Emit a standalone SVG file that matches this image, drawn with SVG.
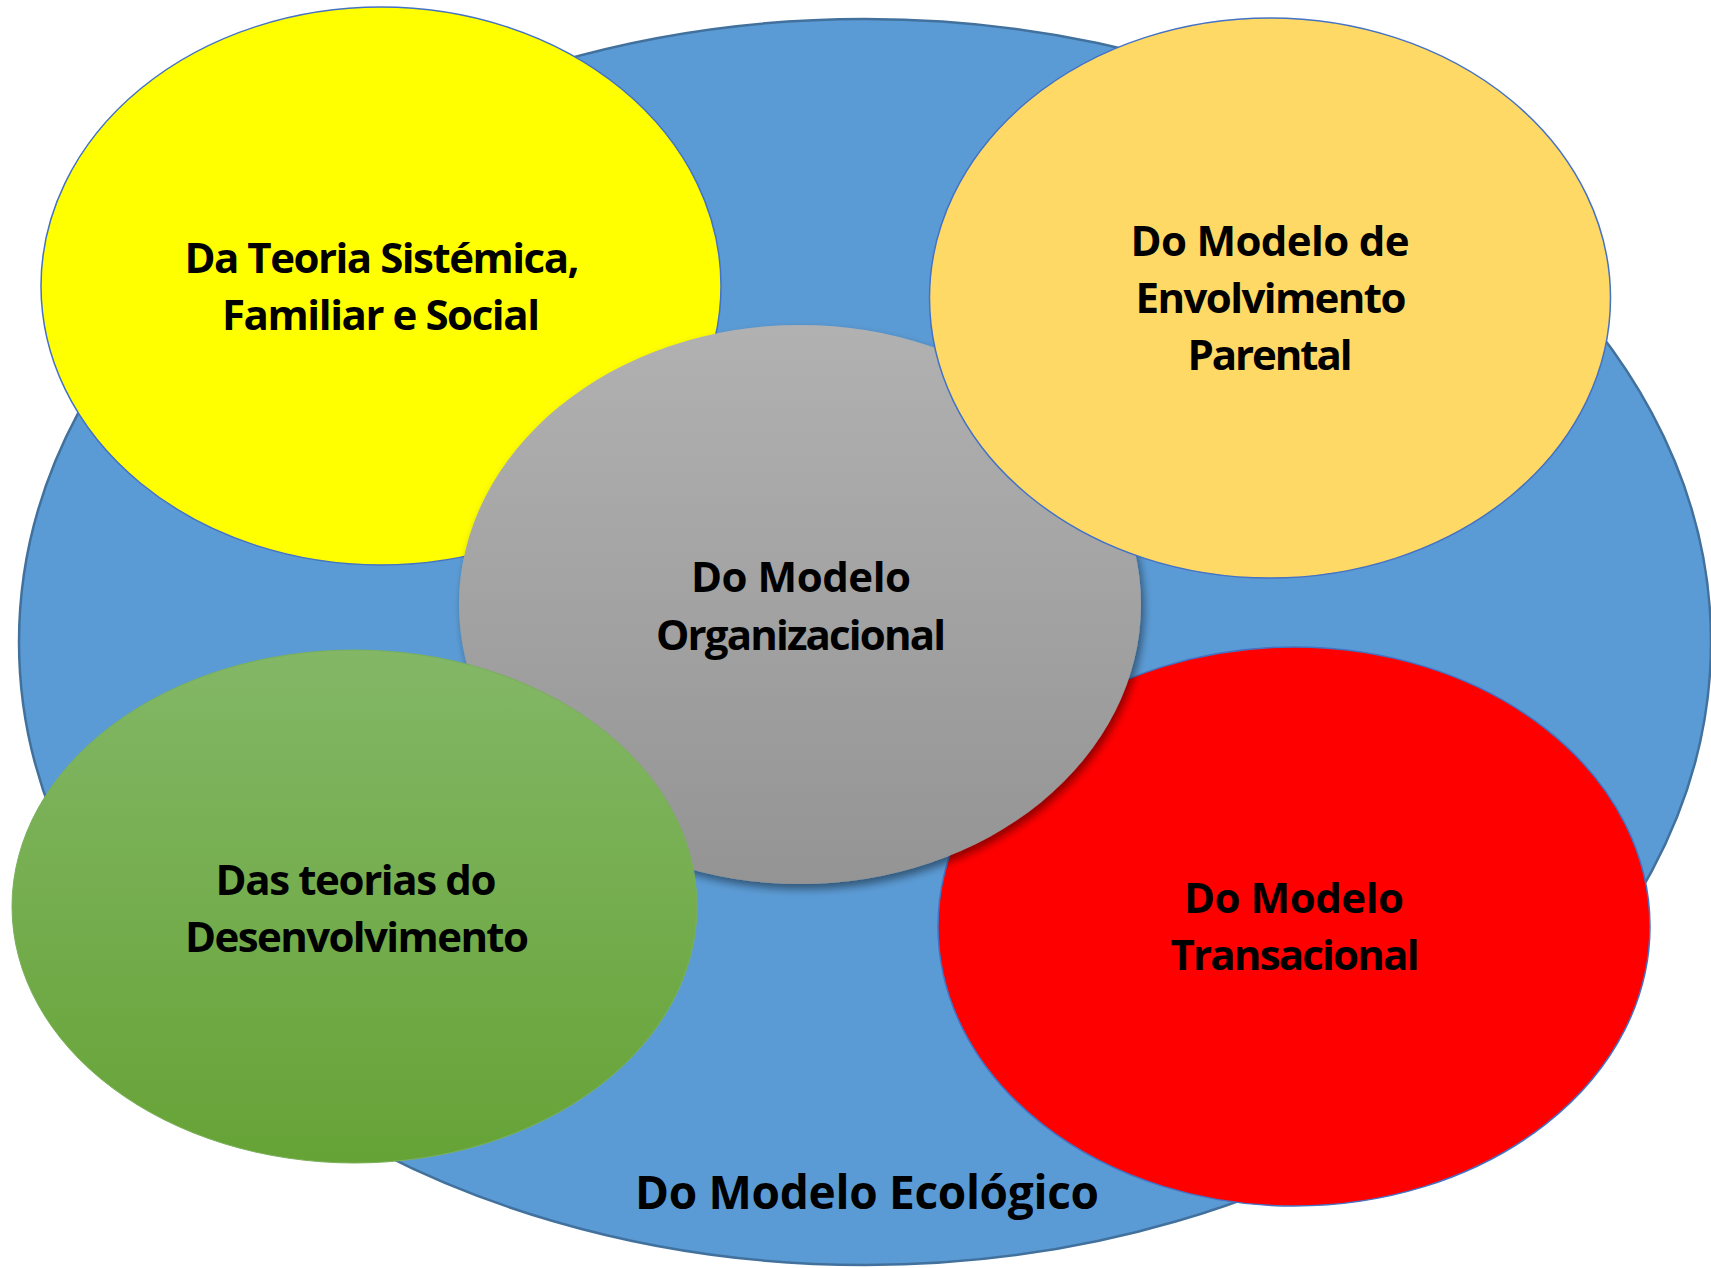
<svg xmlns="http://www.w3.org/2000/svg" width="1711" height="1268" viewBox="0 0 1711 1268">
<style>
.lbl{font-family:"Open Sans","Liberation Sans",sans-serif;font-weight:700;font-size:42px;fill:#000;text-anchor:middle}
.big{font-size:46px}
.thin{stroke:#4472C4;stroke-width:1.5}
</style>
<defs>
<linearGradient id="gGray" x1="0" y1="0" x2="0" y2="1">
<stop offset="0" stop-color="#B1B1B1"/>
<stop offset="1" stop-color="#949494"/>
</linearGradient>
<linearGradient id="gGreen" x1="0" y1="0" x2="0" y2="1">
<stop offset="0" stop-color="#83B766"/>
<stop offset="1" stop-color="#66A336"/>
</linearGradient>
<filter id="shadow" x="-10%" y="-10%" width="125%" height="125%">
<feDropShadow dx="3" dy="5" stdDeviation="4" flood-color="#000" flood-opacity="0.45"/>
</filter>
</defs>
<rect width="1711" height="1268" fill="#fff"/>
<g id="ecologico">
<ellipse cx="865" cy="642" rx="846" ry="623" fill="#5B9BD5" stroke="#41719C" stroke-width="2.5"/>
<text class="lbl big" x="867" y="1209" textLength="464">Do Modelo Ecológico</text>
</g>
<g id="sistemica">
<ellipse class="thin" cx="381" cy="286" rx="340" ry="279" fill="#FFFF00"/>
<text class="lbl" x="382" y="273" textLength="395">Da Teoria Sistémica,</text>
<text class="lbl" x="381" y="330" textLength="318">Familiar e Social</text>
</g>
<g id="transacional">
<ellipse class="thin" cx="1294" cy="926.5" rx="356" ry="279.5" fill="#FF0000"/>
<text class="lbl" x="1294" y="913" textLength="220">Do Modelo</text>
<text class="lbl" x="1295" y="970" textLength="249">Transacional</text>
</g>
<g id="organizacional">
<ellipse cx="800" cy="604.5" rx="341" ry="279.5" fill="url(#gGray)" filter="url(#shadow)"/>
<text class="lbl" x="801" y="592" textLength="220">Do Modelo</text>
<text class="lbl" x="801" y="650" textLength="290">Organizacional</text>
</g>
<g id="parental">
<ellipse class="thin" cx="1270" cy="298" rx="340.5" ry="280" fill="#FFD966"/>
<text class="lbl" x="1270" y="256" textLength="279">Do Modelo de</text>
<text class="lbl" x="1271" y="313" textLength="271">Envolvimento</text>
<text class="lbl" x="1270" y="370" textLength="165">Parental</text>
</g>
<g id="desenvolvimento">
<ellipse cx="354.5" cy="906.5" rx="342.5" ry="256.5" fill="url(#gGreen)" stroke="#79B05A" stroke-width="1"/>
<text class="lbl" x="356" y="895" textLength="281">Das teorias do</text>
<text class="lbl" x="357" y="952" textLength="344">Desenvolvimento</text>
</g>
<g id="connectors"/>
</svg>
